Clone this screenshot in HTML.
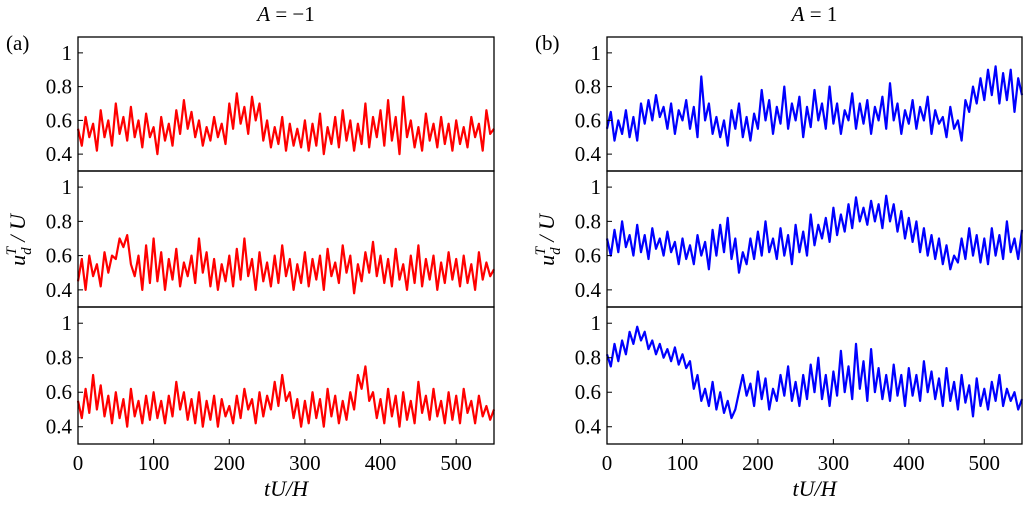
<!DOCTYPE html>
<html><head><meta charset="utf-8"><style>
body{margin:0;background:#fff;}
svg text{font-family:"Liberation Serif","DejaVu Serif",serif !important;fill:#000;}
</style></head><body>
<svg id="c" width="1024" height="507" viewBox="0 0 1024 507" xmlns="http://www.w3.org/2000/svg" font-family="Liberation Serif, serif"></svg>
<script>
const xTicks=[0,100,200,300,400,500];
const yTicks=[0.4,0.6,0.8,1];
const yTickLabels=["0.4","0.6","0.8","1"];
const stepT=5;
const a1=[0.55,0.45,0.62,0.5,0.58,0.42,0.66,0.5,0.6,0.45,0.7,0.52,0.62,0.48,0.68,0.5,0.6,0.44,0.64,0.5,
0.56,0.4,0.62,0.48,0.58,0.45,0.66,0.52,0.72,0.55,0.65,0.5,0.6,0.45,0.56,0.48,0.62,0.5,0.58,0.46,
0.7,0.55,0.76,0.58,0.68,0.52,0.74,0.6,0.7,0.48,0.6,0.44,0.56,0.46,0.62,0.42,0.58,0.45,0.55,0.44,
0.6,0.42,0.58,0.45,0.64,0.4,0.56,0.46,0.62,0.44,0.66,0.48,0.6,0.42,0.58,0.46,0.7,0.44,0.62,0.5,
0.66,0.45,0.72,0.48,0.62,0.4,0.74,0.5,0.6,0.44,0.56,0.42,0.64,0.48,0.58,0.44,0.62,0.46,0.58,0.42,
0.6,0.46,0.56,0.44,0.62,0.5,0.58,0.42,0.66,0.52,0.55];
const a2=[0.45,0.58,0.4,0.6,0.48,0.55,0.42,0.62,0.5,0.6,0.58,0.7,0.65,0.72,0.55,0.48,0.6,0.4,0.66,0.44,
0.7,0.45,0.62,0.4,0.58,0.46,0.64,0.42,0.56,0.48,0.6,0.44,0.7,0.5,0.62,0.42,0.58,0.4,0.55,0.45,
0.6,0.42,0.64,0.46,0.7,0.48,0.58,0.4,0.62,0.45,0.56,0.42,0.6,0.44,0.66,0.48,0.58,0.4,0.55,0.44,
0.62,0.42,0.58,0.46,0.6,0.4,0.64,0.48,0.56,0.44,0.66,0.5,0.6,0.38,0.55,0.45,0.62,0.5,0.68,0.48,
0.6,0.44,0.58,0.42,0.64,0.46,0.55,0.4,0.6,0.44,0.66,0.42,0.58,0.46,0.6,0.4,0.56,0.44,0.62,0.46,
0.58,0.42,0.6,0.44,0.55,0.4,0.62,0.46,0.56,0.48,0.52];
const a3=[0.55,0.45,0.62,0.48,0.7,0.5,0.64,0.46,0.58,0.42,0.6,0.45,0.56,0.4,0.62,0.46,0.55,0.42,0.58,0.44,
0.6,0.45,0.55,0.42,0.58,0.46,0.66,0.5,0.6,0.44,0.56,0.42,0.6,0.4,0.55,0.44,0.58,0.4,0.56,0.46,
0.52,0.42,0.58,0.45,0.62,0.5,0.56,0.42,0.6,0.46,0.58,0.5,0.66,0.52,0.7,0.55,0.6,0.45,0.56,0.4,
0.55,0.42,0.6,0.45,0.56,0.4,0.62,0.46,0.58,0.42,0.55,0.44,0.6,0.5,0.7,0.62,0.75,0.55,0.6,0.45,
0.56,0.42,0.62,0.46,0.58,0.4,0.6,0.44,0.55,0.42,0.66,0.48,0.58,0.44,0.62,0.46,0.55,0.42,0.6,0.44,
0.58,0.42,0.62,0.48,0.55,0.42,0.58,0.46,0.52,0.44,0.5];
const b1=[0.55,0.65,0.48,0.6,0.52,0.66,0.5,0.62,0.48,0.7,0.58,0.72,0.6,0.75,0.62,0.68,0.55,0.7,0.52,0.66,
0.6,0.72,0.55,0.68,0.5,0.86,0.6,0.7,0.52,0.62,0.5,0.6,0.45,0.66,0.55,0.7,0.5,0.62,0.48,0.64,
0.55,0.78,0.6,0.72,0.52,0.68,0.58,0.8,0.55,0.7,0.6,0.74,0.5,0.68,0.56,0.78,0.6,0.7,0.55,0.8,
0.58,0.7,0.52,0.66,0.6,0.76,0.55,0.7,0.58,0.72,0.52,0.68,0.6,0.74,0.55,0.82,0.6,0.7,0.52,0.66,
0.58,0.72,0.55,0.68,0.6,0.74,0.52,0.66,0.58,0.62,0.5,0.68,0.55,0.6,0.48,0.72,0.65,0.8,0.7,0.85,
0.72,0.9,0.75,0.92,0.7,0.88,0.72,0.9,0.65,0.85,0.75];
const b2=[0.7,0.6,0.75,0.62,0.8,0.65,0.72,0.6,0.78,0.62,0.72,0.58,0.76,0.64,0.7,0.6,0.74,0.62,0.68,0.55,
0.7,0.58,0.66,0.55,0.72,0.6,0.68,0.52,0.75,0.6,0.78,0.62,0.82,0.58,0.7,0.5,0.62,0.55,0.7,0.58,
0.74,0.6,0.8,0.62,0.7,0.58,0.76,0.6,0.72,0.55,0.78,0.62,0.74,0.6,0.84,0.66,0.78,0.7,0.82,0.68,
0.88,0.72,0.84,0.74,0.9,0.76,0.94,0.8,0.88,0.78,0.92,0.8,0.9,0.76,0.95,0.8,0.9,0.74,0.86,0.7,
0.82,0.68,0.8,0.62,0.76,0.6,0.72,0.58,0.7,0.55,0.66,0.52,0.6,0.56,0.7,0.58,0.76,0.6,0.72,0.56,
0.7,0.55,0.76,0.6,0.72,0.58,0.8,0.62,0.7,0.58,0.75];
const b3=[0.82,0.75,0.88,0.78,0.9,0.82,0.95,0.88,0.98,0.9,0.95,0.85,0.9,0.82,0.88,0.8,0.85,0.78,0.86,0.76,
0.82,0.74,0.78,0.62,0.7,0.55,0.62,0.52,0.66,0.5,0.6,0.48,0.55,0.45,0.5,0.6,0.7,0.58,0.65,0.52,
0.72,0.56,0.68,0.5,0.62,0.55,0.7,0.58,0.75,0.55,0.66,0.52,0.7,0.56,0.76,0.6,0.8,0.56,0.7,0.52,
0.72,0.58,0.84,0.6,0.75,0.56,0.88,0.62,0.78,0.55,0.85,0.6,0.74,0.56,0.7,0.55,0.76,0.58,0.7,0.52,
0.74,0.58,0.7,0.55,0.78,0.6,0.72,0.56,0.68,0.52,0.74,0.55,0.66,0.5,0.7,0.54,0.64,0.46,0.68,0.52,
0.62,0.5,0.66,0.55,0.7,0.52,0.62,0.55,0.6,0.5,0.56];

const NS="http://www.w3.org/2000/svg";
const svg=document.getElementById('c');
const FF="Liberation Serif, DejaVu Serif, serif";
function mk(tag,attrs,parent){const e=document.createElementNS(NS,tag);for(const k in attrs)e.setAttribute(k,attrs[k]);if(tag==='text')e.setAttribute('font-family',FF);(parent||svg).appendChild(e);return e;}
const xMin=0,xMax=550,yMin=0.3,yMax=1.094;
const cols=[{x0:78,x1:494,color:"#ff0000",series:[a1,a2,a3],lab:"(a)"},
            {x0:607,x1:1022,color:"#0000ff",series:[b1,b2,b3],lab:"(b)"}];
const rows=[{y0:37,y1:171},{y0:171,y1:307},{y0:307,y1:444}];
cols.forEach((c,ci)=>{
  const sx=v=>c.x0+(v-xMin)/(xMax-xMin)*(c.x1-c.x0);
  rows.forEach((r,ri)=>{
    const sy=v=>r.y1-(v-yMin)/(yMax-yMin)*(r.y1-r.y0);
    const data=c.series[ri];
    let d="";
    data.forEach((v,i)=>{d+=(i?"L":"M")+sx(i*stepT).toFixed(1)+","+sy(v).toFixed(1);});
    const p=mk('path',{d:d,fill:"none",stroke:c.color,"stroke-width":2.2,"stroke-linejoin":"round"});
    
    
    yTicks.forEach((t,k)=>{
      const y=sy(t);
      const tk=mk('line',{x1:c.x0,x2:c.x0+5,y1:y,y2:y,stroke:"#000","stroke-width":1});
      
      
      const tl=mk('text',{x:c.x0-6,y:y+7,"text-anchor":"end","font-size":21});
      tl.textContent=yTickLabels[k];
      
      
    });
    const fr=mk('rect',{x:c.x0,y:r.y0,width:c.x1-c.x0,height:r.y1-r.y0,fill:"none",stroke:"#000","stroke-width":1.3});
    
    
  });
  xTicks.forEach(t=>{
    const x=sx(t);
    const tk=mk('line',{x1:x,x2:x,y1:444,y2:439,stroke:"#000","stroke-width":1});
    
    
    const tl=mk('text',{x:x,y:470,"text-anchor":"middle","font-size":21});
    tl.textContent=String(t);
    
    
  });
  const mid=(c.x0+c.x1)/2;
  const xl=mk('text',{x:mid,y:496,"text-anchor":"middle","font-size":22,"font-style":"italic"});
  xl.textContent="tU/H";
  
  
  const tt=mk('text',{x:mid,y:21,"text-anchor":"middle","font-size":21});
  tt.innerHTML='<tspan font-style="italic">A</tspan> = '+(ci?'1':'\u22121');
  
  
  const pl=mk('text',{x:c.x0-72,y:50,"font-size":21});
  pl.textContent=c.lab;
  
  
  const yl=mk('text',{transform:"translate("+(c.x0-53)+",240) rotate(-90)","text-anchor":"middle","font-size":22,"font-style":"italic"});
  yl.innerHTML='u<tspan dy="6" font-size="15">d</tspan><tspan dx="-8" dy="-15" font-size="15">T</tspan><tspan dy="9"> / U</tspan>';
  
  
});
</script>
</body></html>
